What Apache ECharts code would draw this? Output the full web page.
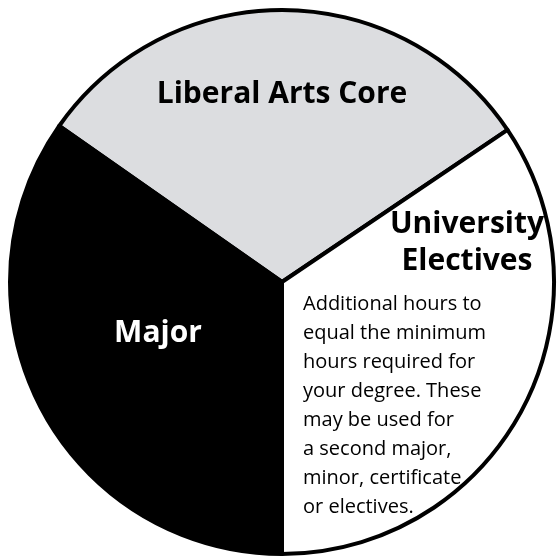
<!DOCTYPE html>
<html>
<head>
<meta charset="utf-8">
<script src="https://cdn.jsdelivr.net/npm/echarts@6/dist/echarts.min.js"></script>
<style>
  html, body { margin: 0; padding: 0; background: #fff; }
  #main { width: 557px; height: 559px; }
</style>
</head>
<body>
<div id="main"></div>
<script>
// slice sizes (in degrees of the circle)
var names = ['Liberal Arts Core', 'University Electives', 'Major'];
var values = [111, 124, 125];
var colors = ['#dcdde0', '#ffffff', '#000000'];
var labelColors = ['#000', '#000', '#fff'];
var noteLines = [
    'Additional hours to',
    'equal the minimum',
    'hours required for',
    'your degree. These',
    'may be used for',
    'a second major,',
    'minor, certificate',
    'or electives.'
];

// where each slice's name sits
var labelSpots = [
    {x: 282, y: 94},
    {x: 467, y: 243},
    {x: 158, y: 333}
];

var myChart = echarts.init(document.getElementById('main'));

var data = names.map(function (n, i) {
    return {
        name: n,
        value: values[i],
        itemStyle: {color: colors[i]},
        label: {color: labelColors[i]}
    };
});

var option = {
    animation: false,
    series: [{
        type: 'pie',
        center: [282, 282],
        radius: [0, 272],
        startAngle: 145,
        clockwise: true,
        silent: true,
        data: data,
        itemStyle: {
            borderColor: '#000',
            borderWidth: 4
        },
        label: {
            show: true,
            position: 'inside',
            fontFamily: 'Open Sans',
            fontWeight: 'bold',
            fontSize: 30,
            lineHeight: 37,
            align: 'center',
            formatter: function (p) {
                return p.name === 'University Electives' ? 'University\nElectives' : p.name;
            }
        },
        labelLine: {show: false},
        labelLayout: function (params) {
            var s = labelSpots[params.dataIndex];
            return {x: s.x, y: s.y, align: 'center', verticalAlign: 'middle'};
        }
    }],
    graphic: [{
        type: 'text',
        left: 303,
        top: 290,
        z: 100,
        silent: true,
        style: {
            text: noteLines.join('\n'),
            fontFamily: 'Open Sans',
            fontSize: 20,
            lineHeight: 29,
            fill: '#000'
        }
    }]
};

myChart.setOption(option);
</script>
</body>
</html>
